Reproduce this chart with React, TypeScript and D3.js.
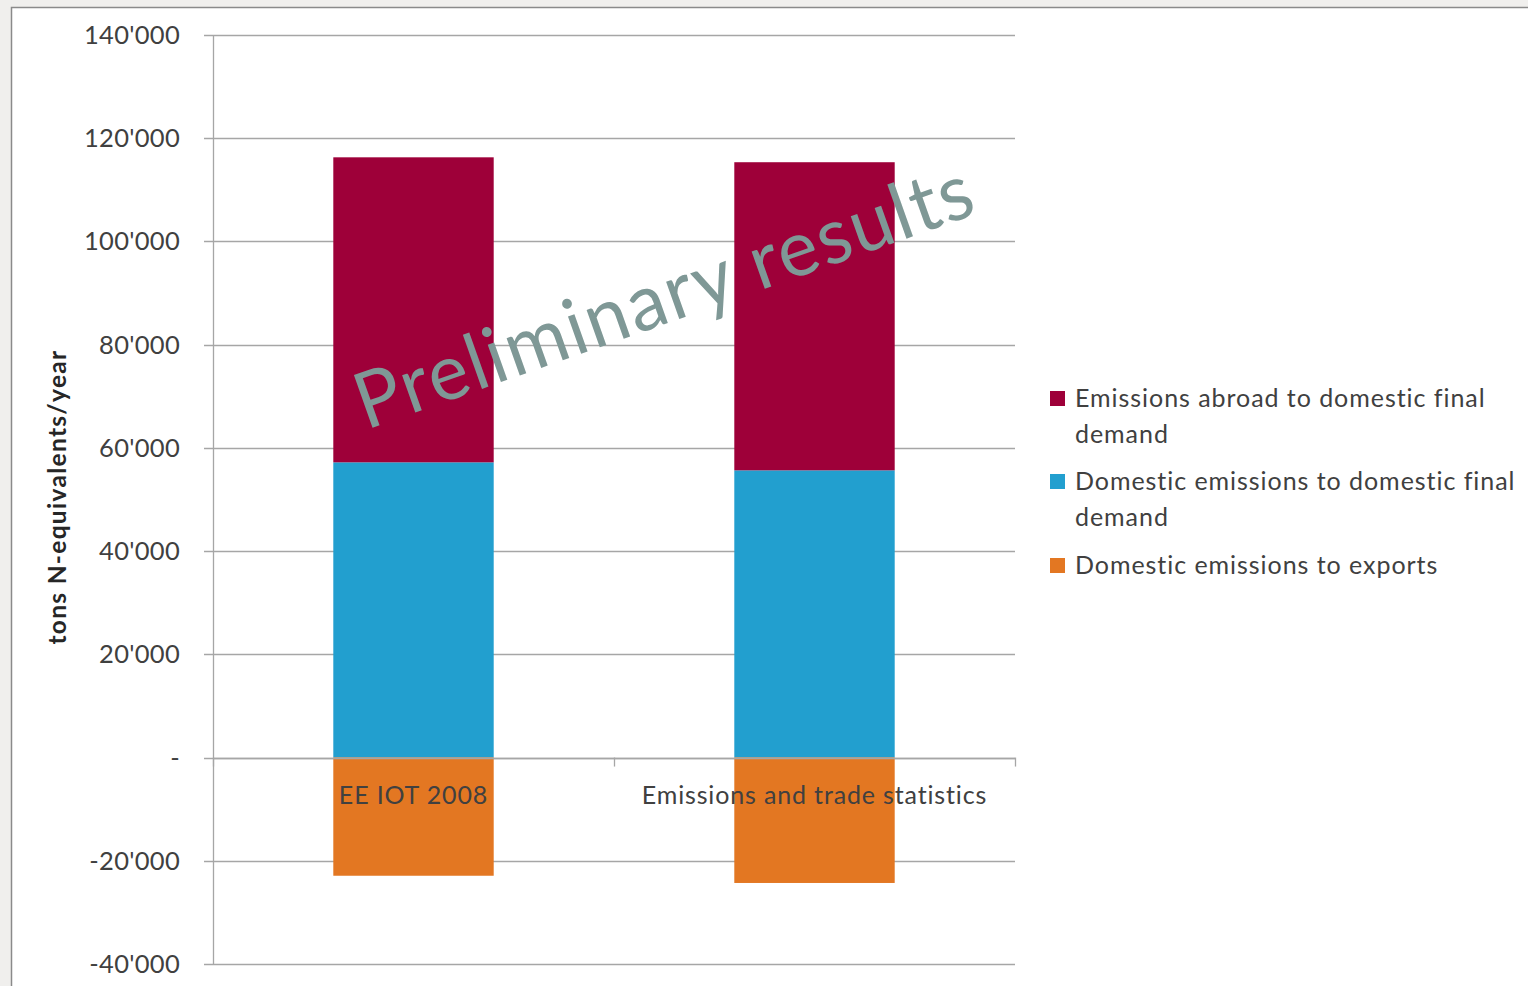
import React from "react";
import * as d3 from "d3";

const categories = ["EE IOT 2008", "Emissions and trade statistics"];
const seriesNames = [
  "Emissions abroad to domestic final demand",
  "Domestic emissions to domestic final demand",
  "Domestic emissions to exports",
];
const abroadToDomestic = [59100, 59700];
const domesticToDomestic = [57200, 55650];
const domesticToExports = [-22900, -24300];
const yTicks = [-40000, -20000, 0, 20000, 40000, 60000, 80000, 100000, 120000, 140000];
const colors = ["#9e0039", "#229fcf", "#e37722"];

const FONT = "Lato, 'Open Sans', sans-serif";

export default function App() {
  const W = 1528, H = 986;
  const y = d3.scaleLinear().domain([-40000, 140000]).range([964, 35]);
  const x = d3.scaleBand<string>().domain(categories).range([213, 1015]).paddingInner(0.6).paddingOuter(0.3);
  const step = x.step();
  const fmt = (v: number) =>
    v === 0 ? "-" : d3.format(",")(v).replace(/,/g, "'").replace(/\u2212/g, "-");

  const bars: { x: number; y0: number; y1: number; c: string }[] = [];
  categories.forEach((cat, i) => {
    const b = domesticToDomestic[i];
    const r = abroadToDomestic[i];
    const e = domesticToExports[i];
    bars.push({ x: x(cat)!, y0: 0, y1: b, c: colors[1] });
    bars.push({ x: x(cat)!, y0: b, y1: b + r, c: colors[0] });
    bars.push({ x: x(cat)!, y0: e, y1: 0, c: colors[2] });
  });

  const legendY = [398, 481, 565];
  const legendLines = [
    ["Emissions abroad to domestic final", "demand"],
    ["Domestic emissions to domestic final", "demand"],
    ["Domestic emissions to exports"],
  ];

  return (
    <svg width={W} height={H} style={{ position: "absolute", left: 0, top: 0 }}>
      <rect x={0} y={0} width={W} height={H} fill="#f0efed" />
      <rect x={11.5} y={7.5} width={W} height={H} fill="#ffffff" stroke="#8a8a8a" strokeWidth={1.5} />
      {/* gridlines */}
      {yTicks.map((t) => (
        <line key={"g" + t} x1={204} x2={1015} y1={Math.round(y(t)) + 0.5} y2={Math.round(y(t)) + 0.5} stroke="#a6a6a6" strokeWidth={1.3} />
      ))}
      {/* bars */}
      {bars.map((b, i) => (
        <rect key={i} x={b.x} y={y(b.y1)} width={x.bandwidth()} height={y(b.y0) - y(b.y1)} fill={b.c} />
      ))}
      {/* y axis */}
      <line x1={213.5} x2={213.5} y1={y(140000)} y2={y(-40000)} stroke="#a6a6a6" strokeWidth={1.3} />
      {/* category axis */}
      <line x1={213} x2={1015} y1={Math.round(y(0)) + 0.5} y2={Math.round(y(0)) + 0.5} stroke="#a6a6a6" strokeWidth={1.3} />
      {[0, 1, 2].map((k) => {
        const xx = 213 + k * step + 0.5;
        return <line key={"ct" + k} x1={xx} x2={xx} y1={y(0)} y2={y(0) + 9} stroke="#a6a6a6" strokeWidth={1.3} />;
      })}
      {/* y tick labels */}
      {yTicks.map((t) => (
        <text key={"l" + t} x={180} y={y(t) + 9} textAnchor="end" fontFamily={FONT} fontSize={25.5} letterSpacing={0.3} fill="#404040">
          {fmt(t)}
        </text>
      ))}
      {/* category labels */}
      {categories.map((c) => (
        <text key={c} x={x(c)! + x.bandwidth() / 2} y={y(0) + 46} textAnchor="middle" fontFamily={FONT} fontSize={25} letterSpacing={0.85} fill="#404040">
          {c}
        </text>
      ))}
      {/* y title */}
      <text transform={`translate(66,497) rotate(-90)`} textAnchor="middle" fontFamily={FONT} fontSize={24.5} letterSpacing={1.3} fontWeight="bold" fill="#262626">
        tons N-equivalents/year
      </text>
      {/* legend */}
      {seriesNames.map((s, i) => (
        <g key={s}>
          <rect x={1050} y={legendY[i] - 7} width={15} height={15} fill={colors[i]} />
          {legendLines[i].map((ln, j) => (
            <text key={j} x={1075} y={legendY[i] + 9 + j * 36} fontFamily={FONT} fontSize={25} letterSpacing={0.95} fill="#404040">
              {ln}
            </text>
          ))}
        </g>
      ))}
      {/* watermark */}
      <text transform="translate(366,430) rotate(-19.5)" fontFamily={FONT} fontSize={78} fill="#7f9896" textLength={652} lengthAdjust="spacingAndGlyphs" letterSpacing={2}>
        Preliminary results
      </text>
    </svg>
  );
}
